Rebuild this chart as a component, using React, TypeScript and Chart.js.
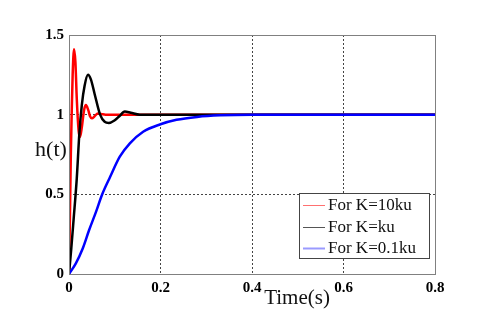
import React, { useEffect, useRef } from "react";
import { Chart, registerables } from "chart.js";

Chart.register(...registerables);

const xTicks = [0, 0.2, 0.4, 0.6, 0.8];
const yTicks = [0, 0.5, 1, 1.5];

const seriesLabels = ["For K=10ku", "For K=ku", "For K=0.1ku"];

const redT = [0, 0.002, 0.004, 0.006, 0.008, 0.011, 0.014, 0.017, 0.021, 0.024, 0.028, 0.033, 0.037, 0.042, 0.046, 0.05, 0.056, 0.063, 0.07, 0.08, 0.8];
const redV = [0, 0.35, 0.75, 1.02, 1.25, 1.41, 1.33, 1.1, 0.9, 0.86, 0.92, 1.03, 1.06, 1.03, 0.99, 0.977, 0.99, 1.008, 1.005, 1.0, 1.0];

const blackT = [0, 0.005, 0.01, 0.017, 0.0226, 0.028, 0.034, 0.0415, 0.048, 0.056, 0.068, 0.078, 0.087, 0.1, 0.11, 0.122, 0.135, 0.155, 0.8];
const blackV = [0, 0.16, 0.34, 0.6, 0.88, 1.06, 1.18, 1.25, 1.22, 1.13, 1.0, 0.955, 0.948, 0.965, 0.99, 1.02, 1.012, 1.0, 1.0];

const blueT = [0, 0.015, 0.03, 0.044, 0.059, 0.072, 0.09, 0.111, 0.133, 0.162, 0.2, 0.235, 0.28, 0.33, 0.4, 0.8];
const blueV = [0, 0.067, 0.16, 0.276, 0.39, 0.496, 0.61, 0.736, 0.82, 0.893, 0.94, 0.968, 0.986, 0.996, 1.0, 1.0];

const toPts = (t: number[], v: number[]) => t.map((x, i) => ({ x, y: v[i] }));

const legendColors = ["#ff7070", "#555555", "#9a9aff"];
const legendWidths = [1, 1, 2];

const overlayPlugin = {
  id: "overlay",
  afterDatasetsDraw(chart: any) {
    const ctx = chart.ctx;
    const a = chart.chartArea;
    ctx.save();
    ctx.strokeStyle = "#808080";
    ctx.lineWidth = 1;
    ctx.strokeRect(Math.round(a.left) + 0.5, Math.round(a.top) + 0.5, Math.round(a.right - a.left), Math.round(a.bottom - a.top));
    ctx.fillStyle = "#111";
    ctx.font = "22px 'Liberation Serif'";
    ctx.textAlign = "center";
    ctx.textBaseline = "middle";
    ctx.fillText("h(t)", 51, 150);
    ctx.font = "21px 'Liberation Serif'";
    ctx.textBaseline = "alphabetic";
    ctx.fillText("Time(s)", 297, 304);
    const bx = 299.5, by = 193.5, bw = 130, bh = 65;
    ctx.fillStyle = "#fff";
    ctx.fillRect(bx, by, bw, bh);
    ctx.strokeStyle = "#444";
    ctx.lineWidth = 1;
    ctx.strokeRect(bx, by, bw, bh);
    const rows = [205, 227, 248];
    ctx.font = "17px 'Liberation Serif'";
    ctx.textAlign = "left";
    ctx.textBaseline = "middle";
    seriesLabels.forEach((lab, i) => {
      ctx.strokeStyle = legendColors[i];
      ctx.lineWidth = legendWidths[i];
      ctx.beginPath();
      ctx.moveTo(303, rows[i] + 0.5);
      ctx.lineTo(325, rows[i] + 0.5);
      ctx.stroke();
      ctx.fillStyle = "#111";
      ctx.fillText(lab, 328, rows[i] + 1);
    });
    ctx.restore();
  },
};

export default function App() {
  const ref = useRef<HTMLCanvasElement>(null);
  useEffect(() => {
    if (!ref.current) return;
    const gridColor = (edge: number[]) => (c: any) =>
      edge.includes(c.tick?.value) ? "rgba(0,0,0,0)" : "#444";
    const tickFont = { family: "'Liberation Serif'", size: 15, weight: "bold" };
    const chart = new Chart(ref.current, {
      type: "line",
      data: {
        datasets: [
          { label: seriesLabels[0], data: toPts(redT, redV), borderColor: "#ff0000", borderWidth: 2.5, pointRadius: 0, cubicInterpolationMode: "monotone", order: 2 },
          { label: seriesLabels[1], data: toPts(blackT, blackV), borderColor: "#000000", borderWidth: 2.5, pointRadius: 0, cubicInterpolationMode: "monotone", order: 1 },
          { label: seriesLabels[2], data: toPts(blueT, blueV), borderColor: "#0000ff", borderWidth: 2.5, pointRadius: 0, cubicInterpolationMode: "monotone", order: 0 },
        ],
      },
      options: {
        responsive: false,
        animation: false,
        layout: { padding: { left: 0, top: 35, right: 45, bottom: 0 } },
        plugins: { legend: { display: false }, tooltip: { enabled: false } },
        scales: {
          x: {
            type: "linear",
            min: xTicks[0],
            max: xTicks[xTicks.length - 1],
            afterBuildTicks: (s: any) => { s.ticks = xTicks.map((v) => ({ value: v })); },
            afterFit: (s: any) => { s.height = 35; },
            border: { display: false, dash: [2, 2] },
            grid: { color: gridColor([0, 0.8]), drawTicks: false, lineWidth: 1 },
            ticks: { color: "#000", font: tickFont, padding: 5, maxRotation: 0, callback: (v: any) => String(v) },
          },
          y: {
            min: yTicks[0],
            max: yTicks[yTicks.length - 1],
            afterBuildTicks: (s: any) => { s.ticks = yTicks.map((v) => ({ value: v })); },
            afterFit: (s: any) => { s.width = 69; },
            border: { display: false, dash: [2, 2] },
            grid: { color: gridColor([0, 1.5]), drawTicks: false, lineWidth: 1 },
            ticks: { color: "#000", font: tickFont, padding: 5, callback: (v: any) => String(v) },
          },
        },
      },
      plugins: [overlayPlugin],
    } as any);
    return () => chart.destroy();
  }, []);
  return (
    <div style={{ position: "fixed", left: 0, top: 0, width: 480, height: 309, background: "#fff" }}>
      <canvas ref={ref} width={480} height={309} />
    </div>
  );
}
